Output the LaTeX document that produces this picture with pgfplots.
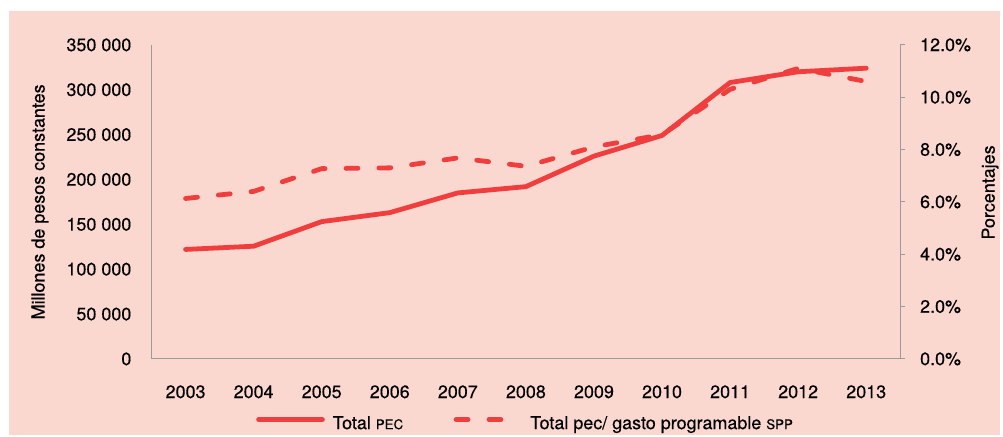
\documentclass[border=0pt]{standalone}
\usepackage{pgfplots}
\pgfplotsset{compat=1.18}
\usepackage{fontspec}
\setmainfont{TeX Gyre Heros}[FakeBold=0.35]
\definecolor{bg}{RGB}{250,215,207}
\definecolor{ln}{RGB}{240,62,62}
\definecolor{ax}{RGB}{155,155,155}
\pgfplotstableread{
x pec pct
0 122000 6.13
1 125600 6.40
2 153000 7.27
3 163000 7.30
4 185000 7.68
5 192000 7.36
6 226000 8.10
7 249000 8.57
8 308000 10.30
9 320000 11.10
10 324000 10.60
}\datatable
\begin{document}
\begin{tikzpicture}[x=0.75pt,y=0.75pt]
\fill[white] (0,0) rectangle (1003,436);
\fill[bg] (9.5,0) rectangle (1003,425);
\pgfplotsset{
  common/.style={
    at={(114pt,57pt)}, anchor=south west,
    scale only axis, width=563.25pt, height=236.25pt,
    xmin=-0.5, xmax=10.5,
    scaled x ticks=false, scaled y ticks=false,
    ticklabel style={font=\fontsize{13.5}{16}\selectfont},
    label style={font=\fontsize{13.5}{16}\selectfont},
    axis line style={-, draw=ax, line width=0.9pt},
    /pgf/number format/assume math mode=true,
  },
  solidline/.style={draw=ln, line width=3.6pt, line join=round, line cap=round},
  dashline/.style={draw=ln, line width=3.6pt, line join=round, line cap=round, dash pattern=on 9pt off 15.75pt},
}
\begin{axis}[common,
  axis x line*=bottom, axis y line*=left,
  ymin=0, ymax=350000,
  xtick={0,...,10},
  xticklabels={2003,2004,2005,2006,2007,2008,2009,2010,2011,2012,2013},
  ytick={0,50000,100000,150000,200000,250000,300000,350000},
  yticklabels={0,50 000,100 000,150 000,200 000,250 000,300 000,350 000},
  xtick style={draw=none}, ytick style={draw=none},
  xticklabel style={anchor=center, inner sep=0pt, yshift=-24.75pt},
  yticklabel style={anchor=east, inner sep=0pt, xshift=-15pt},
  ylabel={Millones de pesos constantes},
  ylabel style={at={(axis description cs:-0.149,0.5)}, anchor=center},
]
\addplot[solidline] table[x=x, y=pec] {\datatable};
\end{axis}
\begin{axis}[common,
  axis x line=none, axis y line*=right,
  ymin=0, ymax=12,
  ytick={0,2,4,6,8,10,12},
  yticklabels={0.0\%,2.0\%,4.0\%,6.0\%,8.0\%,10.0\%,12.0\%},
  tick align=outside, major tick length=3.75pt,
  ytick style={draw=ax, line width=0.9pt},
  yticklabel style={anchor=west, inner sep=0pt, xshift=11pt},
  ylabel={Porcentajes},
  ylabel style={at={(axis description cs:1.12,0.53)}, anchor=center},
  legend columns=2,
  legend style={draw=none, fill=none, at={(axis description cs:0.5,-0.206)}, anchor=center,
    font=\fontsize{13.5}{16}\selectfont,
    /tikz/every even column/.append style={column sep=36pt}},
  legend image code/.code={\draw[#1] (0pt,0.3em) -- (48pt,0.3em); \path (52pt,0.3em);},
]
\addlegendimage{solidline}
\addlegendentry{Total {\fontsize{10}{12}\selectfont PEC}}
\addplot[dashline] table[x=x, y=pct] {\datatable};
\addlegendentry{Total pec/ gasto programable {\fontsize{10}{12}\selectfont SPP}}
\end{axis}
\end{tikzpicture}
\end{document}
